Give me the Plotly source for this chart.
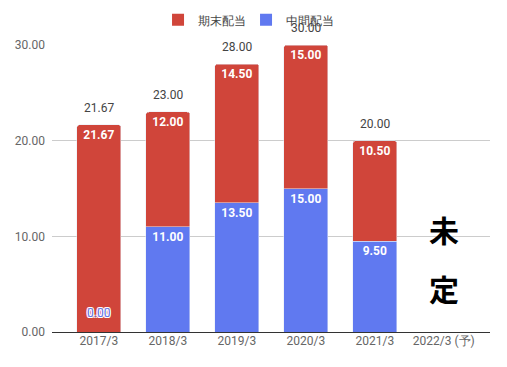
import plotly.graph_objects as go

categories = ["2017/3", "2018/3", "2019/3", "2020/3", "2021/3", "2022/3 (予)"]
interim = [0.00, 11.00, 13.50, 15.00, 9.50, None]     # 中間配当
year_end = [21.67, 12.00, 14.50, 15.00, 10.50, None]  # 期末配当
totals = [21.67, 23.00, 28.00, 30.00, 20.00, None]
yticks = [0, 10, 20, 30]

RED = "#d0453a"
BLUE = "#6079f0"
FONT = "Roboto, Arial, sans-serif"

def lbl(v):
    return "" if (v is None or v == 0) else f"{v:.2f}"

fig = go.Figure()
fig.add_trace(go.Bar(
    name="中間配当", x=categories, y=interim, marker_color=BLUE,
    text=[lbl(v) for v in interim], textposition="inside", insidetextanchor="end",
    textfont=dict(color="white", size=12, family=FONT, weight="bold"),
    width=0.64, hoverinfo="skip", showlegend=False,
))
fig.add_trace(go.Bar(
    name="期末配当", x=categories, y=year_end, marker_color=RED,
    text=[lbl(v) for v in year_end], textposition="inside", insidetextanchor="end",
    textfont=dict(color="white", size=12, family=FONT, weight="bold"),
    width=0.64, hoverinfo="skip", showlegend=False,
))
# legend entries with square swatches
for name, col in [("期末配当", RED), ("中間配当", BLUE)]:
    fig.add_trace(go.Scatter(x=[None], y=[None], mode="markers", name=name,
                             marker=dict(symbol="square", size=12, color=col)))

for c, t in zip(categories, totals):
    if t is not None:
        fig.add_annotation(x=c, y=t, text=f"{t:.2f}", showarrow=False, yshift=17,
                           font=dict(size=12, color="#444", family=FONT))

# zero-valued interim label for 2017/3
outline = "1px 1px 0 white, -1px -1px 0 white, 1px -1px 0 white, -1px 1px 0 white"
for c, v in zip(categories, interim):
    if v == 0:
        fig.add_annotation(x=c, y=v, text=f"{v:.2f}", showarrow=False, yshift=19,
                           font=dict(size=12, color=BLUE, family=FONT, shadow=outline))

fig.add_annotation(x=categories[-1], y=0.359, yref="paper", yanchor="middle", text="未",
                   showarrow=False,
                   font=dict(size=30, color="black", family="Noto Sans CJK JP", weight="bold"))
fig.add_annotation(x=categories[-1], y=0.153, yref="paper", yanchor="middle", text="定",
                   showarrow=False,
                   font=dict(size=30, color="black", family="Noto Sans CJK JP", weight="bold"))

fig.update_layout(
    width=499, height=359,
    margin=dict(l=44, r=17, t=37, b=35, autoexpand=False),
    barmode="stack", barcornerradius=3,
    plot_bgcolor="white", paper_bgcolor="white",
    font=dict(family=FONT, size=12, color="#555"),
    legend=dict(orientation="h", x=0.443, xanchor="center", y=0.967, yanchor="middle",
                yref="container", traceorder="normal", font=dict(size=12, color="#444"),
                entrywidth=43, entrywidthmode="pixels"),
    xaxis=dict(range=[-0.68, 5.67], showgrid=False, showline=False, ticks="",
               tickfont=dict(size=12, color="#666"), automargin=False),
    yaxis=dict(range=[0, 30], tickvals=yticks, tickformat=".2f", showgrid=True,
               gridcolor="#cccccc", zeroline=True, zerolinecolor="#333", zerolinewidth=1,
               showline=False, ticks="", tickfont=dict(size=12, color="#666"),
               ticklabelstandoff=6, automargin=False),
    showlegend=True,
)

fig.write_html("out.html")
